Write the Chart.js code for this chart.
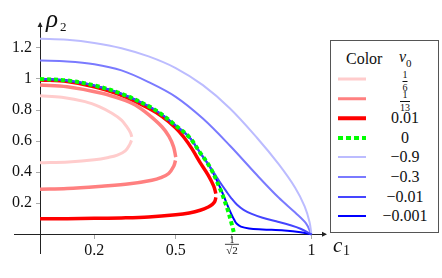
<!DOCTYPE html>
<html>
<head>
<meta charset="utf-8">
<script src="https://cdn.jsdelivr.net/npm/chart.js@4.4.0/dist/chart.umd.min.js"></script>
<style>
html,body{margin:0;padding:0;background:#fff;}
#wrap{position:relative;width:442px;height:278px;}
#legend{position:absolute;left:330px;top:40px;width:109px;height:193px;box-sizing:border-box;border:1px solid #555;
  font-family:"Liberation Serif",serif;font-size:16px;color:#111;background:#fff;}
.row{position:absolute;left:0;width:100%;height:20px;}
.sample{position:absolute;left:7px;width:28px;top:50%;transform:translateY(-50%);}
.val{position:absolute;left:74px;top:50%;transform:translate(-50%,-50%);white-space:nowrap;line-height:1;}
.head{position:absolute;top:50%;transform:translateY(-50%);white-space:nowrap;line-height:1;}
.frac{display:inline-flex;flex-direction:column;align-items:center;font-size:10px;line-height:1;}
.frac .bar{width:100%;border-top:0.8px solid #111;margin:1px 0;}
i sub{font-style:normal;font-size:11px;}
</style>
</head>
<body>
<div id="wrap">
  <canvas id="c" width="442" height="278"></canvas>
  <div id="legend"></div>
</div>
<script>
// ---- data ----
// nu0 = 1/6
const lpUpX = [0, 0.08, 0.166, 0.22, 0.265, 0.3, 0.32, 0.333, 0.338];
const lpUpY = [0.892, 0.882, 0.854, 0.82, 0.779, 0.735, 0.692, 0.655, 0.627];
const lpLoX = [0.337, 0.331, 0.314, 0.285, 0.252, 0.2, 0.105, 0];
const lpLoY = [0.605, 0.58, 0.537, 0.51, 0.495, 0.48, 0.466, 0.46];
// nu0 = 1/13
const pkUpX = [0, 0.1, 0.228, 0.3, 0.351, 0.4, 0.449, 0.475, 0.492, 0.5];
const pkUpY = [0.961, 0.95, 0.908, 0.87, 0.832, 0.77, 0.692, 0.63, 0.563, 0.497];
const pkLoX = [0.499, 0.493, 0.474, 0.445, 0.412, 0.33, 0.228, 0.1, 0];
const pkLoY = [0.475, 0.44, 0.392, 0.365, 0.348, 0.325, 0.31, 0.295, 0.29];
// nu0 = 0.01
const rdUpX = [0, 0.1, 0.2, 0.3, 0.4, 0.45, 0.5, 0.53, 0.56, 0.59, 0.62, 0.64, 0.648];
const rdUpY = [0.994, 0.984, 0.95, 0.895, 0.812, 0.758, 0.685, 0.625, 0.55, 0.462, 0.38, 0.31, 0.262];
const rdLoX = [0.648, 0.644, 0.635, 0.62, 0.59, 0.55, 0.5, 0.4, 0.3, 0.2, 0.1, 0];
const rdLoY = [0.238, 0.212, 0.193, 0.176, 0.155, 0.138, 0.126, 0.112, 0.106, 0.103, 0.101, 0.1];
// nu0 = 0
const grX = [0, 0.1, 0.2, 0.3, 0.4, 0.45, 0.5, 0.55, 0.59, 0.627, 0.664, 0.69, 0.705, 0.714];
const grY = [1.0, 0.99, 0.958, 0.905, 0.825, 0.77, 0.70, 0.625, 0.525, 0.43, 0.29, 0.165, 0.075, 0.012];
// nu0 = -0.9
const b9X = [0, 0.1, 0.2, 0.3, 0.4, 0.5, 0.6, 0.7, 0.8, 0.88, 0.94, 0.975, 0.993, 1.0];
const b9Y = [1.258, 1.252, 1.232, 1.198, 1.145, 1.07, 0.96, 0.81, 0.62, 0.45, 0.3, 0.18, 0.08, 0.0];
// nu0 = -0.3
const b3X = [0, 0.1, 0.2, 0.3, 0.4, 0.5, 0.6, 0.7, 0.8, 0.88, 0.94, 0.98, 1.0];
const b3Y = [1.118, 1.113, 1.095, 1.055, 0.98, 0.885, 0.745, 0.57, 0.38, 0.235, 0.14, 0.07, 0.0];
// nu0 = -0.01
const b01X = [0, 0.1, 0.2, 0.3, 0.4, 0.45, 0.5, 0.55, 0.59, 0.62, 0.645, 0.665, 0.685, 0.705, 0.725, 0.75, 0.78, 0.82, 0.87, 0.92, 0.96, 1.0];
const b01Y = [1.0, 0.99, 0.958, 0.905, 0.825, 0.77, 0.70, 0.625, 0.525, 0.45, 0.385, 0.33, 0.28, 0.232, 0.192, 0.158, 0.132, 0.107, 0.084, 0.06, 0.036, 0.0];
// nu0 = -0.001
const b001X = [0, 0.1, 0.2, 0.3, 0.4, 0.45, 0.5, 0.55, 0.59, 0.627, 0.664, 0.69, 0.705, 0.715, 0.725, 0.74, 0.77, 0.82, 0.9, 0.96, 1.0];
const b001Y = [1.0, 0.99, 0.958, 0.905, 0.825, 0.77, 0.70, 0.625, 0.525, 0.43, 0.3, 0.19, 0.13, 0.095, 0.068, 0.05, 0.038, 0.032, 0.025, 0.014, 0.0];

const xTickVals = [0.2, 0.5, Math.SQRT1_2, 1];
const xTickText = ['0.2', '0.5', '', '1'];
const fracNum = '1', fracDen = '\u221A2';   // label of the 1/sqrt2 tick
const yTickVals = [0.2, 0.4, 0.6, 0.8, 1, 1.2];
const yTickText = ['0.2', '0.4', '0.6', '0.8', '1', '1.2'];

const legendNames = ['1/6', '1/13', '0.01', '0', '\u22120.9', '\u22120.3', '\u22120.01', '\u22120.001'];
const legendColors = ['#ffcccc', '#ff8080', '#ff0000', '#00ff00', '#bcbcff', '#7a7aff', '#4545ff', '#0000ff'];
const legendWidths = [3, 3.5, 3.5, 4, 2, 2, 2, 2];

const SERIF = '"Liberation Serif", serif';

function pts(xs, ys){ return xs.map((x, i) => ({x: x, y: ys[i]})); }

function line(data, ci, extra){
  return Object.assign({
    data: data, showLine: true, pointRadius: 0, fill: false, tension: 0.35,
    borderColor: legendColors[ci], borderWidth: legendWidths[ci], order: 2
  }, extra || {});
}

const datasets = [
  line(pts(lpUpX, lpUpY), 0), line(pts(lpLoX, lpLoY), 0),
  line(pts(pkUpX, pkUpY), 1), line(pts(pkLoX, pkLoY), 1),
  line(pts(rdUpX, rdUpY), 2), line(pts(rdLoX, rdLoY), 2),
  line(pts(grX, grY), 3, {borderDash: [4, 3], order: 0}),
  line(pts(b9X, b9Y), 4),
  line(pts(b3X, b3Y), 5),
  line(pts(b01X, b01Y), 6, {order: 1}),
  line(pts(b001X, b001Y), 7, {order: 1})
];

/* ---------- arrows, 1/sqrt2 label, axis names ---------- */
const decor = {
  id: 'decor',
  afterDraw(chart){
    const {ctx, chartArea} = chart;
    const xs = chart.scales.x, ys = chart.scales.y;
    const x0 = xs.getPixelForValue(0), y0 = ys.getPixelForValue(0);
    ctx.save();
    ctx.fillStyle = '#222';
    // arrow heads
    ctx.beginPath();
    ctx.moveTo(chartArea.right + 2, y0);
    ctx.lineTo(chartArea.right - 3, y0 - 2.5);
    ctx.lineTo(chartArea.right - 3, y0 + 2.5);
    ctx.closePath(); ctx.fill();
    ctx.beginPath();
    ctx.moveTo(x0, chartArea.top - 1);
    ctx.lineTo(x0 - 2.5, chartArea.top + 4);
    ctx.lineTo(x0 + 2.5, chartArea.top + 4);
    ctx.closePath(); ctx.fill();
    // 1/sqrt2 tick label as a stacked fraction
    const fx = xs.getPixelForValue(Math.SQRT1_2);
    ctx.fillStyle = '#111';
    ctx.textAlign = 'center';
    ctx.textBaseline = 'alphabetic';
    ctx.font = '10px ' + SERIF;
    ctx.fillText(fracNum, fx, y0 + 8.5);
    ctx.fillRect(fx - 7, y0 + 9.5, 14, 0.8);
    ctx.font = '11px ' + SERIF;
    ctx.fillText(fracDen, fx, y0 + 19.5);
    // axis names
    ctx.textAlign = 'left';
    ctx.font = 'italic 25px ' + SERIF;
    ctx.fillText('\u03C1', x0 + 6, chartArea.top + 4);
    ctx.font = '13px ' + SERIF;
    ctx.fillText('2', x0 + 20, chartArea.top + 8);
    ctx.font = 'italic 21px ' + SERIF;
    ctx.fillText('c', chartArea.right + 8, y0 + 18);
    ctx.font = '14px ' + SERIF;
    ctx.fillText('1', chartArea.right + 18, y0 + 21);
    ctx.restore();
  }
};

new Chart(document.getElementById('c'), {
  type: 'scatter',
  data: {datasets: datasets},
  options: {
    responsive: false,
    animation: false,
    layout: {padding: {left: 14, top: 23, right: 117, bottom: 25}},
    plugins: {legend: {display: false}, tooltip: {enabled: false}},
    scales: {
      x: {
        type: 'linear', min: -0.096, max: 1.05, position: {y: 0},
        afterBuildTicks: s => { s.ticks = xTickVals.map(v => ({value: v})); },
        afterFit: s => { s.height = 0; },
        border: {color: '#222', width: 1},
        grid: {drawOnChartArea: false, tickLength: 4, color: '#aaa'},
        ticks: {
          autoSkip: false, maxRotation: 0, padding: 3, color: '#111',
          font: {family: SERIF, size: 16},
          callback: (v, i) => xTickText[i]
        }
      },
      y: {
        type: 'linear', min: -0.12, max: 1.36, position: {x: 0},
        afterBuildTicks: s => { s.ticks = yTickVals.map(v => ({value: v})); },
        afterFit: s => { s.width = 0; },
        border: {color: '#222', width: 1},
        grid: {drawOnChartArea: false, tickLength: 4, color: '#aaa'},
        ticks: {
          padding: 6, color: '#111', font: {family: SERIF, size: 16},
          callback: (v, i) => yTickText[i] + '\u2002'
        }
      }
    }
  },
  plugins: [decor]
});

/* ---------- legend box ---------- */
(function buildLegend(){
  const box = document.getElementById('legend');
  let html = '<div class="row" style="top:8px"><span class="head" style="left:15px">Color</span>' +
             '<span class="head" style="left:68px"><i>\u03BD<sub>0</sub></i></span></div>';
  legendNames.forEach((name, i) => {
    const top = 28 + i * 19.6;
    let sample;
    if (i === 3) {
      sample = `background:repeating-linear-gradient(to right, ${legendColors[i]} 0 5px, transparent 5px 8px);height:${legendWidths[i]}px`;
    } else {
      sample = `background:${legendColors[i]};height:${legendWidths[i]}px`;
    }
    let label = name;
    if (name.indexOf('/') > 0) {
      const p = name.split('/');
      label = `<span class="frac"><span>${p[0]}</span><span class="bar"></span><span>${p[1]}</span></span>`;
    }
    html += `<div class="row" style="top:${top}px"><span class="sample" style="${sample}"></span><span class="val">${label}</span></div>`;
  });
  box.innerHTML = html;
})();
</script>
</body>
</html>
